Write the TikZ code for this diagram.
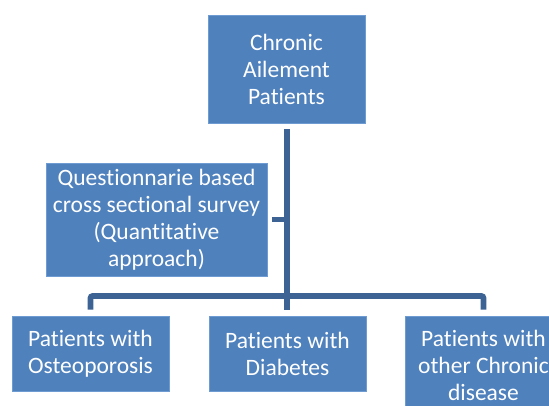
\documentclass[tikz,border=0pt]{standalone}
\usepackage{fontspec}
\setmainfont{Carlito}[Ligatures=NoCommon]
\definecolor{boxfill}{RGB}{79,129,189}
\definecolor{boxedge}{RGB}{110,155,210}
\definecolor{linkcol}{RGB}{60,99,148}
\usetikzlibrary{positioning,calc}

\begin{document}
\begin{tikzpicture}[x=1pt,y=-1pt,
    box/.style={fill=boxfill,draw=boxedge,line width=0.6pt,text=white,align=center,
      inner sep=0pt,font=\fontsize{23.5}{27}\selectfont},
    link/.style={draw=linkcol,line width=5.6pt}]
  \useasboundingbox (0,0) rectangle (549,405);
  \clip (0,0) rectangle (549,405);
  \node[box,minimum width=157pt,minimum height=108pt] (top) at (286.5,69) {Chronic\\Ailement\\Patients};
  \node[box,minimum width=221pt,minimum height=113pt] (quest) at (156.5,219.5)
    {Questionnarie based\\cross sectional survey\\(Quantitative\\approach)};
  \node[box,minimum width=157pt,minimum height=75pt] (osteo) at (90.5,353.5) {Patients with\\Osteoporosis};
  \node[box,minimum width=157pt,minimum height=75pt] (diab) at (287.5,353.5) {Patients with\\Diabetes};
  \node[box,minimum width=157pt,minimum height=98pt] (other) at (483.5,365) {Patients with\\other Chronic\\disease};
  \coordinate (bar) at (287,296);
  % connectors
  \draw[link] ([yshift=-6pt]top.south -| bar) -- ([yshift=6pt]diab.north -| bar);
  \draw[link] ([xshift=5pt]quest.east) -- (quest.east -| bar);
  \draw[link,rounded corners=2pt] ([yshift=6pt]osteo.north) |- (bar) -| ([yshift=6pt]other.north);
\end{tikzpicture}
\end{document}
